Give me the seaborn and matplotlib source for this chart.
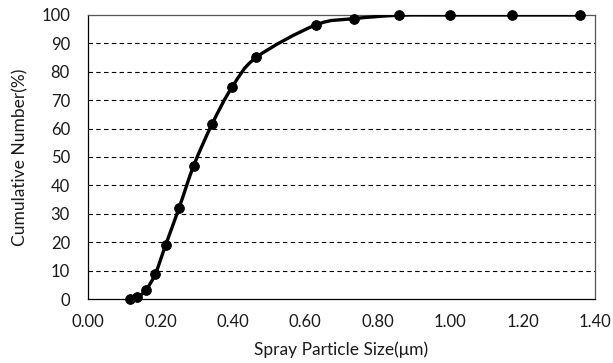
import numpy as np
import matplotlib
matplotlib.use("Agg")
import matplotlib.pyplot as plt
import seaborn as sns
from matplotlib.path import Path
from matplotlib.patches import PathPatch
from matplotlib.ticker import MultipleLocator, FormatStrFormatter

# particle size (um) and cumulative number (%)
particle_size = [0.115, 0.136, 0.159, 0.186, 0.214, 0.251, 0.292, 0.343, 0.398, 0.465,
                 0.629, 0.734, 0.859, 1.000, 1.170, 1.360]
cumulative = [0.0, 0.8, 3.0, 8.9, 18.9, 31.9, 47.0, 61.7, 74.6, 85.1,
              96.5, 98.7, 99.9, 100.0, 100.0, 100.0]
x_ticks = [0.0, 0.2, 0.4, 0.6, 0.8, 1.0, 1.2, 1.4]
y_ticks = [0, 10, 20, 30, 40, 50, 60, 70, 80, 90, 100]

sns.set_style("white")
plt.rcParams['font.family'] = ['Lato', 'DejaVu Sans']

fig = plt.figure(figsize=(6.13, 3.63), dpi=100)
ax = fig.add_axes([0.1436, 0.1763, 0.827, 0.7824])


def smooth_path(xs, ys, t=1 / 6):
    # Excel-style smoothed line: cubic bezier segments through the data points
    xs = np.asarray(xs)
    ys = np.asarray(ys)
    n = len(xs)
    verts = [(xs[0], ys[0])]
    codes = [Path.MOVETO]
    for i in range(n - 1):
        p0 = (xs[max(i - 1, 0)], ys[max(i - 1, 0)])
        p1 = (xs[i], ys[i])
        p2 = (xs[i + 1], ys[i + 1])
        p3 = (xs[min(i + 2, n - 1)], ys[min(i + 2, n - 1)])
        c1 = (p1[0] + (p2[0] - p0[0]) * t, p1[1] + (p2[1] - p0[1]) * t)
        c2 = (p2[0] - (p3[0] - p1[0]) * t, p2[1] - (p3[1] - p1[1]) * t)
        verts += [c1, c2, p2]
        codes += [Path.CURVE4] * 3
    return Path(verts, codes)


ax.add_patch(PathPatch(smooth_path(particle_size, cumulative), facecolor='none',
                       edgecolor='black', lw=2.4, zorder=3))
sns.scatterplot(x=particle_size, y=cumulative, ax=ax, color='black', s=50,
                edgecolor='black', zorder=4, clip_on=False)

ax.set_xlim(0, 1.4)
ax.set_ylim(0, 100)
ax.set_xticks(x_ticks)
ax.set_yticks(y_ticks)
ax.xaxis.set_major_formatter(FormatStrFormatter('%.2f'))
ax.xaxis.set_minor_locator(MultipleLocator(0.1))
ax.yaxis.set_minor_locator(MultipleLocator(5))

for y in y_ticks[1:-1]:
    ax.axhline(y, color='black', lw=0.8, ls=(0, (4, 3)), zorder=1)

ax.tick_params(axis='both', which='both', direction='in', colors='black',
               labelcolor='#1a1a1a', labelsize=12)
ax.tick_params(axis='both', which='major', length=4, width=0.8)
ax.tick_params(axis='both', which='minor', length=3, width=0.8)
ax.tick_params(axis='x', pad=11)
ax.tick_params(axis='y', pad=13)
ax.tick_params(top=False, right=False, which='both')

for s in ax.spines.values():
    s.set_color('black')
    s.set_linewidth(0.9)
ax.spines['top'].set_color('#555555')
ax.spines['right'].set_color('#555555')

ax.set_xlabel('Spray Particle Size(μm)', fontsize=12.5, color='#1a1a1a', labelpad=8)
ax.set_ylabel('Cumulative Number(%)', fontsize=12.5, color='#1a1a1a', labelpad=9)

fig.savefig('out.png', dpi=100)
